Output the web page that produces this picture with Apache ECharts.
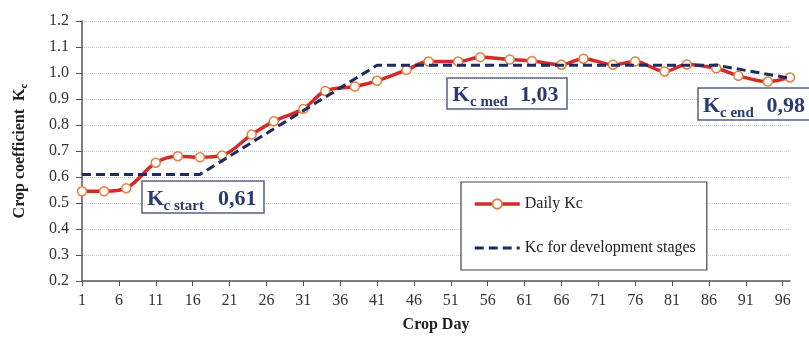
<!DOCTYPE html>
<html><head><meta charset="utf-8">
<script src="https://cdn.jsdelivr.net/npm/echarts@6/dist/echarts.min.js"></script>
<style>html,body{margin:0;padding:0;background:#fff}#c{width:809px;height:338px}</style>
</head><body><div id="c"></div>
<script>
// ---- data ----
const days = [1,4,7,11,14,17,20,24,27,31,34,38,41,45,48,52,55,59,62,66,69,73,76,80,83,87,90,94,97];
const dailyKc = [0.545,0.545,0.557,0.655,0.680,0.676,0.683,0.763,0.814,0.862,0.931,0.948,0.970,1.012,1.044,1.044,1.061,1.052,1.046,1.032,1.055,1.032,1.044,1.006,1.033,1.018,0.989,0.967,0.983];
const stageDays = [1,17,41,87,97];
const stageKc = [0.61,0.61,1.03,1.03,0.98];
const firstDay = 1, lastDay = 97;
const seriesNames = ['Daily Kc', 'Kc for development stages'];
const stageLabels = [
  {main:'K', sub:'c start', val:'0,61'},
  {main:'K', sub:'c med', val:'1,03'},
  {main:'K', sub:'c end', val:'0,98'}
];

const categories = [];
for (let d = firstDay; d <= lastDay; d++) categories.push(String(d));

const SERIF = '"Liberation Serif","Times New Roman",serif';
const NAVY = '#2b3a70';

function annot(box, lab, kx, sx, vx, base) {
  return {
    type: 'group', children: [
      {type:'rect', shape:{x:box[0], y:box[1], width:box[2], height:box[3]},
       style:{fill:'#fff', stroke:'#5b6283', lineWidth:1.5}, z:10},
      {type:'text', x:kx, y:base - 22*0.305, z:11, style:{text:lab.main, fontFamily:SERIF, fontWeight:'bold', fontSize:22, fill:NAVY, verticalAlign:'middle'}},
      {type:'text', x:sx, y:base + 5 - 15*0.305, z:11, style:{text:lab.sub, fontFamily:SERIF, fontWeight:'bold', fontSize:15, fill:NAVY, verticalAlign:'middle'}},
      {type:'text', x:vx, y:base - 22*0.305, z:11, style:{text:lab.val, fontFamily:SERIF, fontWeight:'bold', fontSize:22, fill:NAVY, verticalAlign:'middle'}}
    ]
  };
}

const chart = echarts.init(document.getElementById('c'), null, {renderer:'canvas'});
chart.setOption({
  animation: false,
  backgroundColor: '#fff',
  grid: {left: 82, right: 19, top: 21, bottom: 51},
  legend: {
    orient: 'vertical', left: 461, top: 182,
    padding: [14, 11, 14, 12], itemGap: 28,
    itemWidth: 45, itemHeight: 12,
    borderColor: '#444', borderWidth: 1.2, backgroundColor: '#fff',
    textStyle: {fontFamily: SERIF, fontSize: 16, color: '#222'},
    lineStyle: {width: 'inherit'},
    data: [
      {name: seriesNames[0]},
      {name: seriesNames[1], itemStyle: {opacity: 0}}
    ]
  },
  xAxis: {
    type: 'category', data: categories, boundaryGap: false,
    name: 'Crop Day', nameLocation: 'middle', nameGap: 36,
    nameTextStyle: {fontFamily: SERIF, fontWeight: 'bold', fontSize: 16, color: '#222'},
    axisLine: {lineStyle: {color: '#555', width: 1.5}},
    axisTick: {interval: 4, length: 5, lineStyle: {color: '#555'}},
    axisLabel: {interval: 4, margin: 12, fontFamily: SERIF, fontSize: 16, color: '#333'},
    splitLine: {show: false}
  },
  yAxis: {
    type: 'value', min: 0.2, max: 1.2, interval: 0.1,
    name: '{a|Crop coefficient  K}{b|c}', nameLocation: 'middle', nameGap: 52,
    nameTextStyle: {rich: {
      a: {fontFamily: SERIF, fontWeight: 'bold', fontSize: 16, color: '#222', lineHeight: 20, verticalAlign: 'middle'},
      b: {fontFamily: SERIF, fontWeight: 'bold', fontSize: 11, color: '#222', lineHeight: 12, verticalAlign: 'bottom'}
    }},
    axisLine: {show: true, lineStyle: {color: '#555', width: 1.5}},
    axisTick: {show: true, length: 6, lineStyle: {color: '#555'}},
    axisLabel: {margin: 13, fontFamily: SERIF, fontSize: 16, color: '#333', formatter: v => v.toFixed(1)},
    splitLine: {show: true, lineStyle: {color: '#c8c8c8', type: 'dotted', width: 1}}
  },
  series: [
    {
      name: seriesNames[0], type: 'line', smooth: 0.35,
      data: days.map((d, i) => [String(d), dailyKc[i]]),
      symbol: 'circle', symbolSize: 9, showAllSymbol: true, z: 3,
      lineStyle: {color: '#d42a2a', width: 3.5},
      itemStyle: {color: '#fff', borderColor: '#e0823e', borderWidth: 1.5}
    },
    {
      name: seriesNames[1], type: 'line',
      data: stageDays.map((d, i) => [String(d), stageKc[i]]),
      symbol: 'none', z: 4,
      lineStyle: {color: '#1f2b5e', width: 3, type: [9, 5]},
      itemStyle: {color: '#1f2b5e'}
    }
  ],
  graphic: [
    annot([142, 181, 122, 32], stageLabels[0], 147, 163.5, 218, 206),
    annot([447, 78, 120, 31], stageLabels[1], 452.5, 470, 520, 101.7),
    annot([698, 88, 115, 32], stageLabels[2], 703, 720, 766.5, 112.7)
  ]
});
</script>
</body></html>
